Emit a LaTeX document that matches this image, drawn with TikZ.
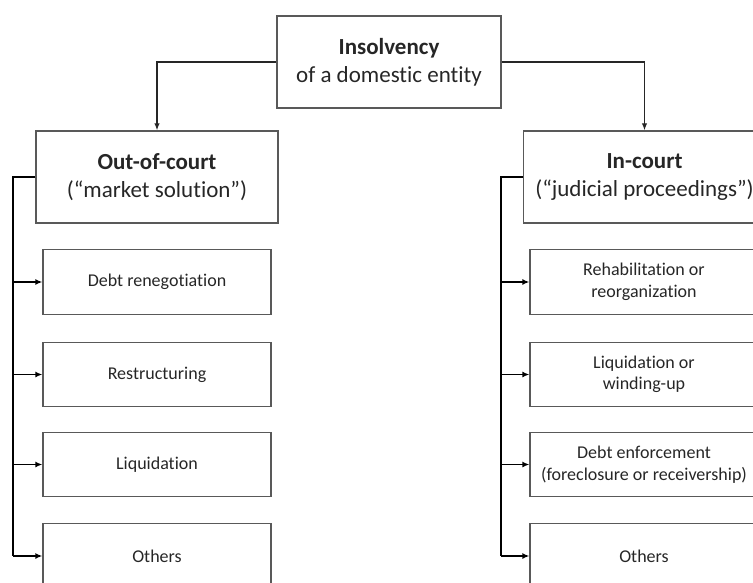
\documentclass[tikz,border=0pt]{standalone}
\usepackage{fontspec}
\setmainfont{Carlito}[Ligatures=NoCommon]
\usepackage{tikz}
\usetikzlibrary{
	arrows.meta,
	positioning
}
\definecolor{BoxGray}{RGB}{89,89,89}
\definecolor{TextGray}{RGB}{38,38,38}

\tikzset{
	headbox/.style={draw=BoxGray, line width=1.3pt, minimum width=224pt, minimum height=92pt,
		inner sep=0pt, align=center, text=TextGray, font=\fontsize{23}{28}\selectfont},
	sidebox/.style={headbox, minimum width=242pt},
	itembox/.style={draw=BoxGray, line width=1.3pt, minimum width=228pt, minimum height=64.5pt,
		inner sep=0pt, align=center, text=TextGray, font=\fontsize{18}{21.5}\selectfont},
	link/.style={draw=TextGray, line width=1.3pt, -{Latex[length=7pt,width=5.5pt]}},
	bus/.style={draw=black, line width=2.6pt},
	feed/.style={draw=black, line width=1.6pt, -{Latex[length=7pt,width=6pt]}}
}

\begin{document}
\begin{tikzpicture}[x=1pt, y=-1pt]
		\useasboundingbox (0,0) rectangle (753,583);
		\clip (0,0) rectangle (753,583);
		
		% top of the tree
		\node[headbox] (top) at (389,62) {\textbf{Insolvency}\\of a domestic entity};
		
		% the two ways
		\node[sidebox] (out) at (157,177) {\textbf{Out-of-court}\\(“market solution”)};
		\node[sidebox] (in) at (644.5,177) {\textbf{In-court}\\(“judicial proceedings”)};
		\draw[link] (top.west) -| (out.north);
		\draw[link] (top.east) -| (in.north);
		
		% out-of-court options
		\node[itembox] (o1) at (157,282) {Debt renegotiation};
		\node[itembox] (o2) at (157,374.5) {Restructuring};
		\node[itembox] (o3) at (157,464.5) {Liquidation};
		\node[itembox] (o4) at (157,556) {Others};
		
		% in-court options
		\node[itembox] (i1) at (644,282) {Rehabilitation or\\reorganization};
		\node[itembox] (i2) at (644,374.5) {Liquidation or\\winding-up};
		\node[itembox] (i3) at (644,464.5) {Debt enforcement\\(foreclosure or receivership)};
		\node[itembox] (i4) at (644,556) {Others};
		
		% brackets
		\coordinate (lbus) at (13,177);
		\coordinate (rbus) at (501,177);
		\draw[bus] (out.west) -- (lbus) -- (lbus |- o4.west);
		\draw[bus] (in.west) -- (rbus) -- (rbus |- i4.west);
		\foreach \i in {1,...,4} {
			\draw[feed] (lbus |- o\i.west) -- (o\i.west);
			\draw[feed] (rbus |- i\i.west) -- (i\i.west);
		}
		
	\end{tikzpicture}
\end{document}
